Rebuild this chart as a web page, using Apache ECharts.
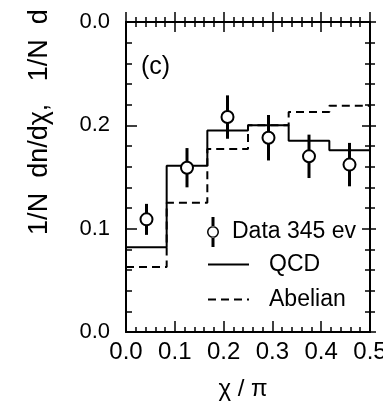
<!DOCTYPE html>
<html>
<head>
<meta charset="utf-8">
<script src="https://cdn.jsdelivr.net/npm/echarts@6/dist/echarts.min.js"></script>
<style>html,body{margin:0;padding:0;background:#fff}#c{width:383px;height:401px}</style>
</head>
<body>
<div id="c"></div>
<script>
// ---- data ----
const binEdges = [0, 1/12, 2/12, 3/12, 4/12, 5/12, 0.5];
const qcd      = [0.082, 0.161, 0.195, 0.200, 0.185, 0.176];
const abelian  = [0.063, 0.125, 0.177, 0.200, 0.213, 0.219];
const dataX    = [0.042, 0.125, 0.208, 0.292, 0.375, 0.458];
const dataY    = [0.109, 0.159, 0.208, 0.188, 0.170, 0.162];
const dataErr  = [0.015, 0.019, 0.021, 0.022, 0.021, 0.021];
const xTickLabels = ['0.0', '0.1', '0.2', '0.3', '0.4', '0.5'];
const yTickLabels = ['0.0', '0.1', '0.2', '0.0'];
const seriesNames = ['Data 345 ev', 'QCD', 'Abelian'];

const FONT = 'Liberation Sans, Arial, sans-serif';
function histData(vals) {
  const d = vals.map((v, i) => [binEdges[i], v]);
  d.push([binEdges[binEdges.length - 1], vals[vals.length - 1]]);
  return d;
}
const errData = dataX.map((x, i) => [x, dataY[i] - dataErr[i], dataY[i] + dataErr[i]]);
const ptData = dataX.map((x, i) => [x, dataY[i]]);

const black = '#000';
const axisLine = { show: true, onZero: false, lineStyle: { color: black, width: 2 } };
function xAx(extra) {
  return Object.assign({
    type: 'value', min: 0, max: 0.5, interval: 0.1,
    axisLine: axisLine, splitLine: { show: false },
    axisLabel: { show: false }
  }, extra);
}
function yAx(extra) {
  return Object.assign({
    type: 'value', min: 0, max: 0.3, interval: 0.1,
    axisLine: axisLine, splitLine: { show: false },
    axisLabel: { show: false }
  }, extra);
}
const dataIcon = 'path://M5.5,0L8.5,0L8.5,9.5L5.5,9.5Z M5.5,20.5L8.5,20.5L8.5,30L5.5,30Z M13,15A6,6 0 1,0 1,15A6,6 0 1,0 13,15Z M11.5,15A4.5,4.5 0 1,1 2.5,15A4.5,4.5 0 1,1 11.5,15Z';
const clear = { color: 'rgba(0,0,0,0)', borderWidth: 0 };
const gridBox = { left: 126, right: 13, top: 22, bottom: 69, containLabel: false, outerBoundsMode: 'none' };

const chart = echarts.init(document.getElementById('c'), null, { renderer: 'canvas' });
chart.setOption({
  animation: false,
  backgroundColor: '#fff',
  textStyle: { fontFamily: FONT, color: black },
  title: { text: '(c)', left: 136, top: 50, textStyle: { fontFamily: FONT, fontSize: 25, fontWeight: 'normal', color: black } },
  grid: [ Object.assign({}, gridBox), Object.assign({}, gridBox) ],
  xAxis: [
    xAx({ gridIndex: 0, position: 'bottom',
      axisTick: { show: true, inside: true, length: 11, lineStyle: { color: black, width: 1.5 } },
      minorTick: { show: true, splitNumber: 5, length: 5, lineStyle: { color: black, width: 1.5 } },
      axisLabel: { show: true, margin: 8, fontSize: 24, color: black, fontFamily: FONT,
        formatter: v => xTickLabels[Math.round(v * 10)] },
      name: 'χ / π', nameLocation: 'middle', nameGap: 45,
      nameTextStyle: { fontSize: 24, color: black, fontFamily: FONT, padding: [0, 10, 0, 0] } }),
    xAx({ gridIndex: 0, position: 'top',
      axisTick: { show: true, inside: true, length: 10, lineStyle: { color: black, width: 1.5 } },
      minorTick: { show: true, splitNumber: 5, length: 5, lineStyle: { color: black, width: 1.5 } } }),
    xAx({ gridIndex: 1, position: 'top',
      axisTick: { show: true, inside: false, length: 10, lineStyle: { color: black, width: 1.5 } },
      minorTick: { show: true, splitNumber: 5, length: 5, lineStyle: { color: black, width: 1.5 } } })
  ],
  yAxis: [
    yAx({ gridIndex: 0, position: 'left',
      axisTick: { show: true, inside: true, length: 11, lineStyle: { color: black, width: 1.5 } },
      minorTick: { show: true, splitNumber: 5, length: 6, lineStyle: { color: black, width: 1.5 } },
      axisLabel: { show: true, margin: 16, fontSize: 22, color: black, fontFamily: FONT,
        formatter: v => yTickLabels[Math.round(v * 10)] },
      name: '1/N  dn/dχ,   1/N  d', nameLocation: 'middle', nameGap: 73,
      nameTextStyle: { fontSize: 27, color: black, fontFamily: FONT, padding: [0, 0, 0, 110] } }),
    yAx({ gridIndex: 0, position: 'right',
      axisTick: { show: true, inside: true, length: 8, lineStyle: { color: black, width: 1.5 } },
      minorTick: { show: true, splitNumber: 5, length: 5, lineStyle: { color: black, width: 1.5 } } }),
    yAx({ gridIndex: 1, position: 'right',
      axisTick: { show: true, inside: false, length: 6, lineStyle: { color: black, width: 1.5 } },
      minorTick: { show: true, splitNumber: 5, length: 5, lineStyle: { color: black, width: 1.5 } } })
  ],
  legend: [
    { left: 207, top: 217, padding: 0, itemWidth: 12, itemHeight: 30, selectedMode: false,
      textStyle: { fontSize: 23, color: black, fontFamily: FONT, padding: [0, 0, 0, 8] },
      data: [{ name: seriesNames[0], icon: dataIcon, itemStyle: { color: black, borderWidth: 0 } }] },
    { left: 207, top: 253, padding: 0, itemWidth: 41, itemHeight: 20, selectedMode: false,
      textStyle: { fontSize: 23, color: black, fontFamily: FONT, padding: [0, 0, 0, 15] },
      data: [{ name: seriesNames[1], itemStyle: clear }] },
    { left: 207, top: 288, padding: 0, itemWidth: 41, itemHeight: 20, selectedMode: false,
      textStyle: { fontSize: 23, color: black, fontFamily: FONT, padding: [0, 0, 0, 15] },
      data: [{ name: seriesNames[2], itemStyle: clear }] }
  ],
  series: [
    { name: seriesNames[1], type: 'line', step: 'end', xAxisIndex: 0, yAxisIndex: 0,
      data: histData(qcd), symbol: 'none', showSymbol: false,
      lineStyle: { color: black, width: 2 }, itemStyle: { color: black }, z: 2 },
    { name: seriesNames[2], type: 'line', step: 'end', xAxisIndex: 0, yAxisIndex: 0,
      data: histData(abelian), symbol: 'none', showSymbol: false,
      lineStyle: { color: black, width: 2, type: [8, 5] }, itemStyle: { color: black }, z: 2 },
    { name: 'err', type: 'custom', xAxisIndex: 0, yAxisIndex: 0, z: 3,
      encode: { x: 0, y: [1, 2] },
      renderItem: function (params, api) {
        const p1 = api.coord([api.value(0), api.value(1)]);
        const p2 = api.coord([api.value(0), api.value(2)]);
        return { type: 'line', shape: { x1: p1[0], y1: p1[1], x2: p2[0], y2: p2[1] },
          style: { stroke: black, lineWidth: 3 } };
      },
      data: errData },
    { name: seriesNames[0], type: 'scatter', xAxisIndex: 0, yAxisIndex: 0, z: 4,
      data: ptData, symbol: 'circle', symbolSize: 12,
      itemStyle: { color: '#fff', borderColor: black, borderWidth: 2, opacity: 1 } }
  ]
});
</script>
</body>
</html>
